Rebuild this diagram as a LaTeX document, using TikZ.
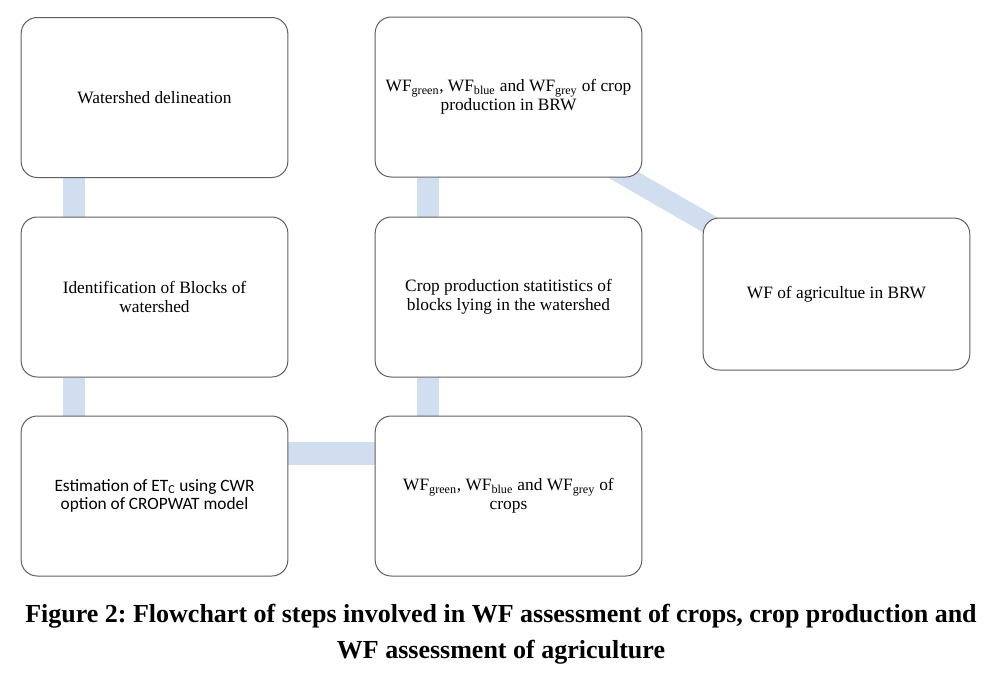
\documentclass[tikz,border=0pt]{standalone}
\usepackage{fontspec}
\setmainfont{Liberation Serif}
\newfontfamily\calibri{Carlito}
\usepackage{tikz}
\usetikzlibrary{positioning,backgrounds}
\usepackage{xcolor}
\definecolor{linkblue}{RGB}{208,222,240}
\definecolor{boxgray}{RGB}{95,95,95}
\tikzstyle{stepbox} = [draw=boxgray, line width=0.75pt, fill=white, rounded corners=12pt, minimum width=200pt, minimum height=120pt, align=center, font=\fontsize{13}{14}\selectfont]
\tikzstyle{link} = [line width=17pt, color=linkblue]
\frenchspacing

\begin{document}
\begin{tikzpicture}[x=0.75pt, y=-0.75pt]
\useasboundingbox (0,0) rectangle (996,676);
% Steps
\node[stepbox] (shed) at (154.5,97.5) {Watershed delineation};
\node[stepbox] (blocks) at (154.5,297) {Identification of Blocks of\\watershed};
\node[stepbox] (etc) at (154.5,496) {\calibri Estimation of ET\textsubscript{C} using CWR\\\calibri option of CROPWAT model};
\node[stepbox] (wfcrop) at (508.5,496) {WF\textsubscript{green}, WF\textsubscript{blue} and WF\textsubscript{grey} of\\crops};
\node[stepbox] (stats) at (508.5,297) {Crop production statitistics of\\blocks lying in the watershed};
\node[stepbox] (wfprod) at (508.5,97) {WF\textsubscript{green}, WF\textsubscript{blue} and WF\textsubscript{grey} of crop\\production in BRW};
\node[stepbox, minimum height=114pt] (wfagri) at (836.5,294) {WF of agricultue in BRW};

% Links (behind the steps)
\begin{pgfonlayer}{background}
\draw[link] ([xshift=40pt]shed.south west) -- ([xshift=40pt]blocks.north west);
\draw[link] ([xshift=40pt]blocks.south west) -- ([xshift=40pt]etc.north west);
\draw[link] ([yshift=-28.5pt]etc.north east) -- ([yshift=-28.5pt]wfcrop.north west);
\draw[link] ([xshift=40pt]wfcrop.north west) -- ([xshift=40pt]stats.south west);
\draw[link] ([xshift=40pt]stats.north west) -- ([xshift=40pt]wfprod.south west);
\draw[link, line width=15pt] ([xshift=-15pt]wfprod.center) -- ([xshift=-5pt]wfagri.center);
\end{pgfonlayer}

% Caption
\node[align=center, font=\bfseries\fontsize{19.5}{27}\selectfont] (caption) at (501,634) {Figure 2: Flowchart of steps involved in WF assessment of crops, crop production and\\WF assessment of agriculture};
\end{tikzpicture}
\end{document}
